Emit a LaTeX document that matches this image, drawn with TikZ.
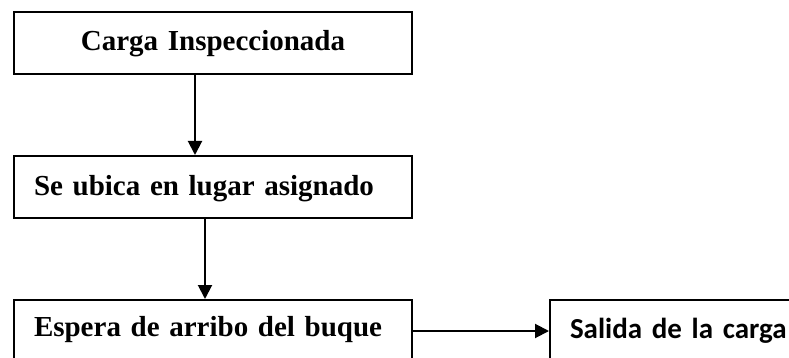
\documentclass[tikz,border=0pt]{standalone}
\usepackage{fontspec}
\setmainfont{Liberation Serif}
\newfontfamily\calib{Carlito}
\usetikzlibrary{arrows.meta}
\begin{document}
\begin{tikzpicture}[x=1pt,y=-1pt,
  box/.style={draw=black,line width=2pt,anchor=north west,inner ysep=0pt,
    font=\fontsize{29}{34}\selectfont\bfseries},
  arr/.style={line width=2pt,-{Triangle[length=14pt,width=14pt]}}]
\useasboundingbox (0,0) rectangle (789,358);
\clip (0,0) rectangle (789,358);
\node[box,inner xsep=0pt,text width=398pt,align=center,text height=39pt,text depth=23pt] (b1) at (13,11) {Carga Inspeccionada};
\node[box,inner xsep=20pt,text width=358pt,align=left,text height=39pt,text depth=23pt] (b2) at (13,155) {Se ubica en lugar asignado};
\node[box,inner xsep=20pt,text width=358pt,align=left,text height=36pt,text depth=30pt] (b3) at (13,299) {Espera de arribo del buque};
\node[box,inner xsep=20pt,text width=260pt,align=left,text height=38pt,text depth=30pt,font=\fontsize{29}{34}\selectfont\calib\bfseries] (b4) at (549,299) {Salida de la carga};
\coordinate (c1) at (195,0);
\coordinate (c2) at (205,0);
\coordinate (c3) at (0,331);
\draw[arr] (c1 |- b1.south) -- (c1 |- b2.north);
\draw[arr] (c2 |- b2.south) -- (c2 |- b3.north);
\draw[arr] (b3.east |- c3) -- (b4.west |- c3);
\end{tikzpicture}
\end{document}
